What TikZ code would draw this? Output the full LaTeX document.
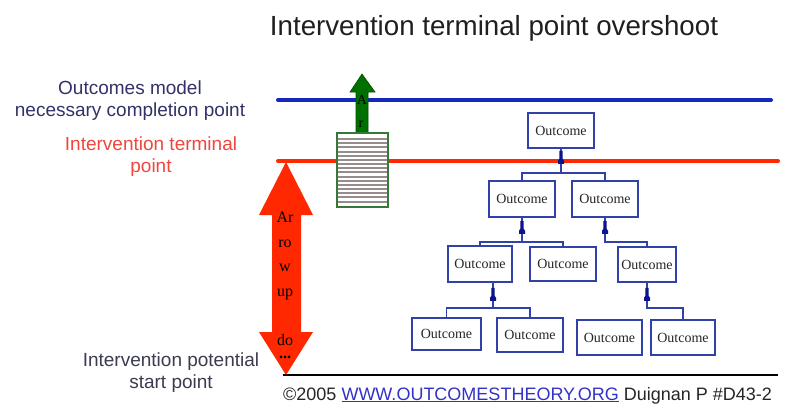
\documentclass[tikz,border=0pt]{standalone}
\usepackage{fontspec}
\setmainfont{Liberation Sans}
\newfontfamily\serifface{Liberation Serif}
\definecolor{lineblue}{RGB}{20,40,190}
\definecolor{linered}{RGB}{255,40,0}
\definecolor{boxblue}{RGB}{50,65,170}
\definecolor{markblue}{RGB}{10,20,140}
\definecolor{arrowgreen}{RGB}{0,112,0}
\definecolor{framegreen}{RGB}{55,120,55}
\definecolor{stripegray}{RGB}{150,140,140}
\definecolor{navylabel}{RGB}{50,50,105}
\definecolor{redlabel}{RGB}{240,70,60}
\definecolor{graylabel}{RGB}{60,60,80}
\definecolor{urlblue}{RGB}{50,50,200}
\tikzset{
  outcome/.style={draw=boxblue, line width=1.5pt, fill=white, inner sep=0pt,
    minimum width=66pt, minimum height=35pt,
    font=\serifface\fontsize{14}{16}\selectfont, text=black!85},
  link/.style={draw=boxblue, line width=1.3pt},
  sidelabel/.style={align=center, inner sep=0pt,
    font=\fontsize{19}{22}\selectfont},
  mk/.pic={\fill[markblue] (-1.6,0) -- (1.6,0) -- (1.6,8) -- (3,10) -- (3,13)
    -- (-3,13) -- (-3,10) -- (-1.6,8) -- cycle;},
}
\begin{document}
\begin{tikzpicture}[x=1pt,y=-1pt]
\useasboundingbox (0,0) rectangle (792,408);
\fill[white] (0,0) rectangle (792,408);

% title
\node[anchor=base, inner sep=0pt, font=\fontsize{27.7}{32}\selectfont, text=black!88]
  (title) at (494,35) {Intervention terminal point overshoot};

% level labels
\node[sidelabel, text=navylabel] (lblcomplete) at (130,101)
  {Outcomes model\\necessary completion point};
\node[sidelabel, text=redlabel] (lblterminal) at (151,157)
  {Intervention terminal\\point};
\node[sidelabel, text=graylabel] (lblstart) at (171,373)
  {Intervention potential\\start point};

% horizontal reference lines
\coordinate (blueL) at (278,100);
\coordinate (blueR) at (771,100);
\coordinate (redL) at (278,161);
\coordinate (redR) at (778,161);
\coordinate (baseL) at (283,375);
\coordinate (baseR) at (778,375);
\draw[lineblue, line width=4pt, line cap=round] (blueL) -- (blueR);
\draw[linered, line width=4pt, line cap=round] (redL) -- (redR);
\draw[black, line width=1.4pt] (baseL) -- (baseR);

% red double arrow between start point and terminal point
\fill[linered] (286,162) -- (313,215) -- (301,215) -- (301,332) -- (313,332)
  -- (286,375) -- (259,332) -- (272,332) -- (272,215) -- (259,215) -- cycle;
\node[anchor=north, align=center, inner sep=0pt,
  font=\serifface\fontsize{16}{24.5}\selectfont] (arrowtext) at (285,212.2)
  {Ar\\ro\\w\\up\\[24.5pt]do\\[-11pt]\textbf{...}};

% green overshoot arrow
\filldraw[fill=arrowgreen, draw=arrowgreen!70!black, line width=0.6pt]
  (356,133) -- (356,92) -- (350,92) -- (362,74) -- (375,92) -- (368,92)
  -- (368,133) -- cycle;
\node[anchor=base, inner sep=0pt, font=\serifface\fontsize{14}{16}\selectfont]
  (greenA) at (362,104) {A};
\node[anchor=base, inner sep=0pt, font=\serifface\fontsize{14}{16}\selectfont]
  (greenR) at (361,127) {r};

% striped overshoot block
\fill[white] (337,133) rectangle (388,207);
\foreach \k in {0,...,15}
  \fill[stripegray] (338,{139+4.17*\k-1}) rectangle (387,{139+4.17*\k+1});
\draw[framegreen, line width=1.5pt] (337,133) rectangle (388,207);

% outcomes tree
\node[outcome] (top) at (561,130.5) {Outcome};
\node[outcome, minimum height=36pt] (L2l) at (522,199) {Outcome};
\node[outcome, minimum height=36pt] (L2r) at (605,199) {Outcome};
\node[outcome, minimum width=64pt, minimum height=36pt] (L3a) at (480,264) {Outcome};
\node[outcome, minimum height=34pt] (L3b) at (563,264) {Outcome};
\node[outcome, minimum width=58pt] (L3c) at (647,264.5) {Outcome};
\node[outcome, minimum width=69pt, minimum height=32pt] (L4a) at (446.5,334) {Outcome};
\node[outcome, minimum height=34pt] (L4b) at (530,335) {Outcome};
\node[outcome, minimum width=65pt] (L4c) at (609.5,337.5) {Outcome};
\node[outcome, minimum width=64pt] (L4d) at (683,337.5) {Outcome};

\coordinate (j1) at (561,173);
\draw[link] (top.south) -- (j1);
\draw[link] (L2l.north) |- (j1) -| (L2r.north);
\coordinate (j2) at (522,242);
\draw[link] (L2l.south) -- (j2);
\draw[link] (L3a.north) |- (j2) -| (L3b.north);
\coordinate (j3) at (605,242);
\draw[link] (L2r.south) -- (j3) -| (L3c.north);
\coordinate (j4) at (493,308);
\draw[link] (j4 |- L3a.south) -- (j4);
\draw[link] (L4a.north) |- (j4) -| (L4b.north);
\coordinate (j5) at (647,308);
\draw[link] (L3c.south) -- (j5) -| (L4d.north);

\path (top.south) ++(0,2) pic {mk};
\path (L2l.south) ++(0,3) pic {mk};
\path (L2r.south) ++(0,3) pic {mk};
\path (j4 |- L3a.south) ++(0,5) pic {mk};
\path (L3c.south) ++(0,5) pic {mk};

% footer
\node[anchor=base west, inner sep=0pt, font=\fontsize{18}{20}\selectfont, text=black!85]
  (footer) at (283,400)
  {\textcopyright2005 \textcolor{urlblue}{\underline{WWW.OUTCOMESTHEORY.ORG}} Duignan P \#D43-2};
\end{tikzpicture}
\end{document}
